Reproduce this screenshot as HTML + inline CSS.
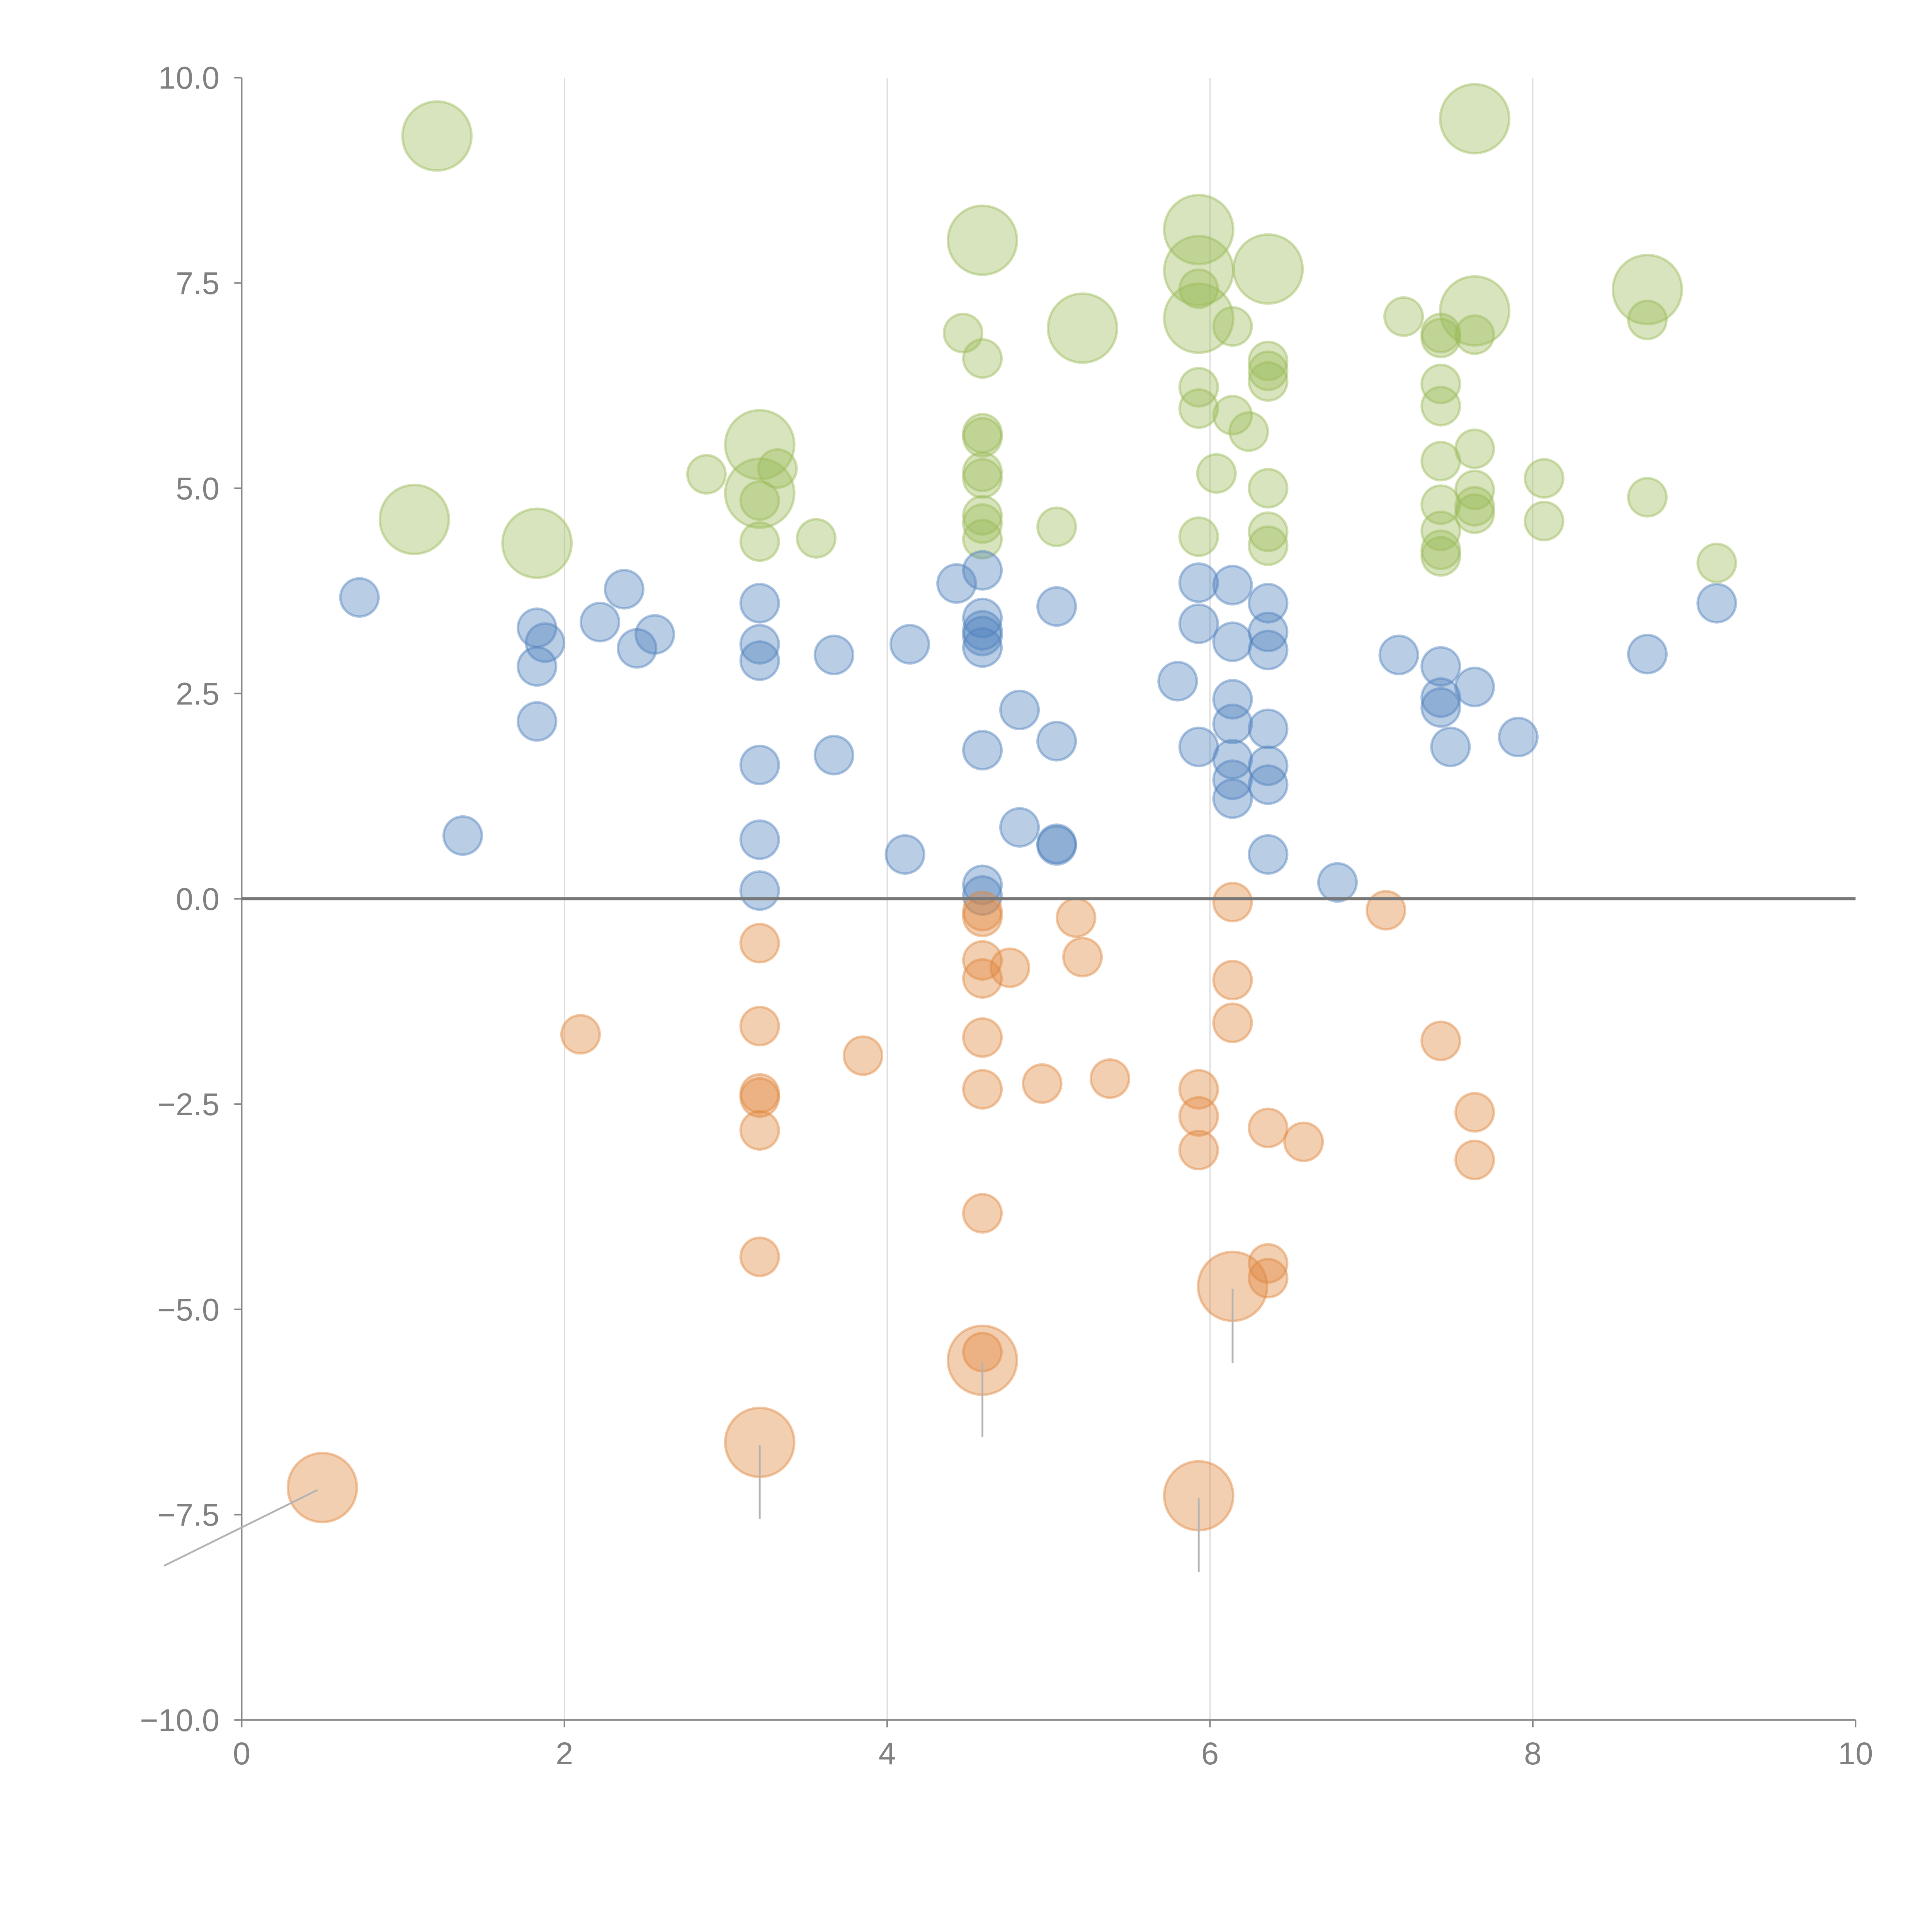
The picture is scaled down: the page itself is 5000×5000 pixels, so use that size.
<!DOCTYPE html>
<html><head><meta charset="utf-8"><style>
html,body{margin:0;padding:0;background:#fff;}
svg{display:block;}
text{font-family:"Liberation Sans",Arial,sans-serif;fill:#808080;}
</style></head><body>
<svg id="chart" width="5000" height="5000" viewBox="0 0 1567 1567" xmlns="http://www.w3.org/2000/svg">
<g id="grid"></g>
<g id="axes"></g>
<g id="leaders"></g>
<g id="marks"></g>
</svg>
<script>
const xTicks=[0,2,4,6,8,10];
const yTicks=[10,7.5,5,2.5,0,-2.5,-5,-7.5,-10];
const yTickLabels=["10.0","7.5","5.0","2.5","0.0","\u22122.5","\u22125.0","\u22127.5","\u221210.0"];
const xTickLabels=["0","2","4","6","8","10"];

const blueX=[0.73,1.37,1.83,1.88,1.83,1.83,2.22,2.37,2.45,2.56,3.21,3.21,3.21,3.21,3.21,3.21,3.67,3.67,4.14,4.11,4.43,4.59,4.59,4.59,4.59,4.59,4.59,4.59,4.59,4.82,4.82,5.05,5.05,5.05,5.05,5.8,5.93,5.93,5.93,6.14,6.14,6.14,6.14,6.14,6.14,6.14,6.36,6.36,6.36,6.36,6.36,6.36,6.36,6.79,7.17,7.43,7.43,7.43,7.49,7.64,7.91,8.71,9.14];
const blueY=[3.67,0.77,3.3,3.12,2.83,2.16,3.37,3.77,3.05,3.22,3.6,3.1,2.9,1.63,0.72,0.1,2.97,1.75,3.1,0.54,3.84,4.0,3.42,3.27,3.2,3.06,1.81,0.17,0.04,2.3,0.87,3.56,1.92,0.65,0.67,2.65,3.85,3.35,1.85,3.82,3.13,2.43,2.13,1.7,1.45,1.22,3.6,3.25,3.03,2.07,1.62,1.39,0.54,0.2,2.97,2.83,2.45,2.33,1.85,2.58,1.97,2.98,3.6];

const orangeX=[2.1,3.21,3.21,3.21,3.21,3.21,3.21,3.85,4.59,4.59,4.59,4.59,4.59,4.59,4.59,4.59,4.76,4.96,5.17,5.21,5.38,5.93,5.93,5.93,6.14,6.14,6.14,6.36,6.36,6.36,6.58,7.09,7.43,7.64,7.64];
const orangeY=[-1.65,-0.54,-1.55,-2.37,-2.42,-2.82,-4.36,-1.91,-0.15,-0.22,-0.75,-0.97,-1.69,-2.32,-3.83,-5.52,-0.84,-2.25,-0.23,-0.71,-2.19,-2.32,-2.65,-3.06,-0.04,-0.99,-1.51,-2.79,-4.44,-4.62,-2.96,-0.14,-1.73,-2.6,-3.18];
const orangeBigX=[0.5,3.21,4.59,5.93,6.14];
const orangeBigY=[-7.17,-6.62,-5.62,-7.27,-4.72];

const greenX=[2.88,3.21,3.21,3.32,3.56,4.47,4.59,4.59,4.59,4.59,4.59,4.59,4.59,4.59,5.05,5.93,5.93,5.93,5.93,6.04,6.14,6.14,6.24,6.36,6.36,6.36,6.36,6.36,6.36,7.2,7.43,7.43,7.43,7.43,7.43,7.43,7.43,7.43,7.43,7.64,7.64,7.64,7.64,7.64,8.07,8.07,8.71,8.71,9.14];
const greenY=[5.17,4.85,4.35,5.24,4.39,6.89,6.58,5.67,5.62,5.2,5.12,4.67,4.57,4.38,4.53,7.43,6.23,5.97,4.41,5.18,6.97,5.89,5.69,6.55,6.43,6.3,5.0,4.47,4.3,7.09,6.89,6.83,6.27,6.0,5.33,4.8,4.48,4.25,4.17,6.87,5.48,4.98,4.78,4.69,5.12,4.6,7.05,4.89,4.09];
const greenBigX=[1.21,1.07,1.83,3.21,3.21,4.59,5.21,5.93,5.93,5.93,6.36,7.64,7.64,8.71];
const greenBigY=[9.29,4.62,4.33,5.53,4.94,8.02,6.95,8.15,7.65,7.07,7.67,9.5,7.16,7.42];

const NS='http://www.w3.org/2000/svg';
const X0=196,X1=1505,Y0=63,Y1=1395;
function sx(v){return X0+(v-0)/10*(X1-X0);}
function sy(v){return Y0+(10-v)/20*(Y1-Y0);}
function mk(tag,attrs,parent){const e=document.createElementNS(NS,tag);for(const k in attrs)e.setAttribute(k,attrs[k]);parent.appendChild(e);return e;}

const grid=document.getElementById('grid'),axes=document.getElementById('axes'),marks=document.getElementById('marks'),leaders=document.getElementById('leaders');
[2,4,6,8].forEach(t=>{
  const l=mk('line',{x1:sx(t),x2:sx(t),y1:Y0,y2:Y1,stroke:'#dcdcdc','stroke-width':1},grid);
  
  
});
let a=mk('line',{x1:X0,x2:X0,y1:Y0,y2:Y1,stroke:'#888','stroke-width':1.3},axes);


a=mk('line',{x1:X0,x2:X1,y1:Y1,y2:Y1,stroke:'#888','stroke-width':1.3},axes);


yTicks.forEach((t,i)=>{
  const tk=mk('line',{x1:X0-6,x2:X0,y1:sy(t),y2:sy(t),stroke:'#888','stroke-width':1.3},axes);
  
  
  const tx=mk('text',{x:X0-18,y:sy(t)+9,'text-anchor':'end','font-size':25.5},axes);
  tx.textContent=yTickLabels[i];
  
  
});
xTicks.forEach((t,i)=>{
  const tk=mk('line',{x1:sx(t),x2:sx(t),y1:Y1,y2:Y1+6,stroke:'#888','stroke-width':1.3},axes);
  
  
  const tx=mk('text',{x:sx(t),y:Y1+36,'text-anchor':'middle','font-size':25.5},axes);
  tx.textContent=xTickLabels[i];
  
  
});

function bubbles(xs,ys,r,color,name){
  xs.forEach((x,i)=>{
    const c=mk('circle',{cx:sx(x),cy:sy(ys[i]),r:r,fill:color,'fill-opacity':0.4,stroke:color,'stroke-opacity':0.45,'stroke-width':2},marks);
    
    
  });
}
bubbles(greenBigX,greenBigY,28,'#9bbb59','green-bubble-large');
bubbles(greenX,greenY,15.5,'#9bbb59','green-bubble');
bubbles(blueX,blueY,15.5,'#4f81bd','blue-bubble');
bubbles(orangeX,orangeY,15.5,'#e0873f','orange-bubble');
bubbles(orangeBigX,orangeBigY,28,'#e0873f','orange-bubble-large');

orangeBigX.forEach((x,i)=>{
  let l;
  if(i===0){l=mk('line',{x1:sx(x)-4,y1:sy(orangeBigY[i])+2,x2:133,y2:1270,stroke:'#b3b3b3','stroke-width':1.5},leaders);}
  else{l=mk('line',{x1:sx(x),y1:sy(orangeBigY[i])+2,x2:sx(x),y2:sy(orangeBigY[i])+62,stroke:'#b3b3b3','stroke-width':1.5},leaders);}
  
  
});
document.getElementById('chart').appendChild(leaders);

const zl=mk('line',{x1:X0,x2:X1,y1:sy(0),y2:sy(0),stroke:'#777','stroke-width':2.5},document.getElementById('chart'));


</script>
</body></html>
